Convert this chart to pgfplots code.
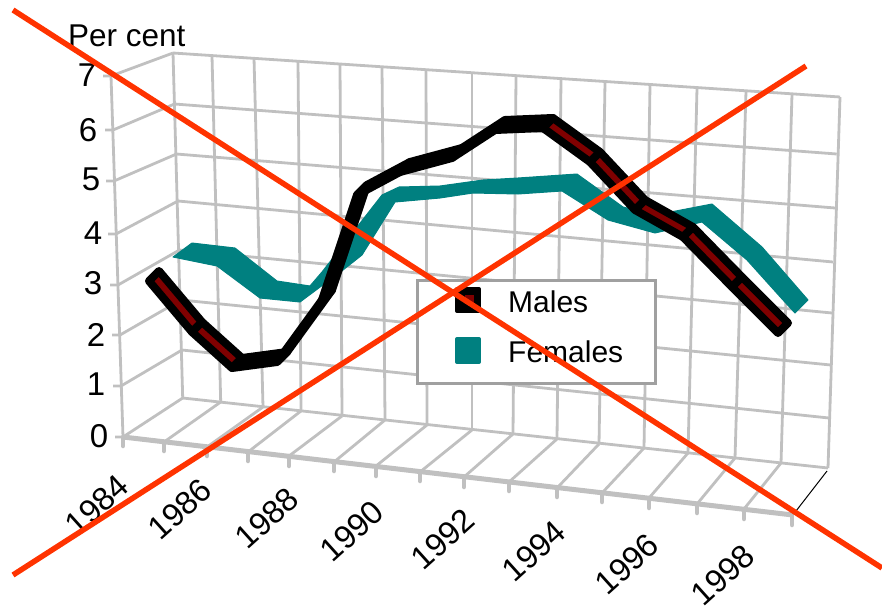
\documentclass[border=0pt]{standalone}
\usepackage{pgfplots}
\pgfplotsset{compat=1.18}
\usepackage{fontspec}
\setmainfont{Liberation Sans}
\definecolor{gridc}{HTML}{C0C0C0}
\definecolor{teal2}{HTML}{008080}
\definecolor{dred}{HTML}{800000}
\definecolor{cross}{HTML}{FF3300}
\definecolor{lbox}{HTML}{A0A0A0}
\newcommand{\grid}[1]{\addplot[gridc,line width=2.8pt,forget plot] coordinates {#1};}
\newcommand{\tck}[1]{\addplot[gridc,line width=4.5pt,line cap=round,forget plot] coordinates {#1};}
\newcommand{\msegR}[1]{\addplot[fill=dred,draw=black,line width=8pt,line join=round,forget plot] coordinates {#1} --cycle;}
\newcommand{\msegB}[1]{\addplot[fill=black,draw=black,line width=8pt,line join=round,forget plot] coordinates {#1} --cycle;}
\begin{document}
\begin{tikzpicture}
\begin{axis}[
  hide axis, scale only axis, width=882pt, height=605pt,
  xmin=0, xmax=882, ymin=0, ymax=605, y dir=reverse,
  clip=true,
]
% back wall: horizontal
\grid{(173,53)(840,97)}
\grid{(174.5,104)(836.7,154)}
\grid{(176.5,154)(835,208)}
\grid{(178,201)(833,262)}
\grid{(179.5,250)(832,313)}
\grid{(181,300)(830.7,365)}
\grid{(182,350)(829,418)}
\grid{(182.7,398)(828,468)}
% back wall: vertical
\grid{(173,53)(182.7,398)}
\grid{(212,56)(220.7,402)}
\grid{(254,58)(263,407)}
\grid{(298,61)(301,411)}
\grid{(340,64)(342,416)}
\grid{(382,67)(385,420)}
\grid{(426,70)(427,425)}
\grid{(472,73)(472,430)}
\grid{(516,76)(513,434)}
\grid{(561,79)(557,439)}
\grid{(605,82)(599,444)}
\grid{(650,85)(644,448)}
\grid{(697,88)(688,453)}
\grid{(746,91)(735,458)}
\grid{(792,94)(781,463)}
\grid{(840,97)(828,468)}
% left wall
\grid{(103,76)(111,76)(173,53)}
\grid{(105,130)(113,130)(174.5,104)}
\grid{(106,181)(114,181)(176.5,154)}
\grid{(108,234)(116,234)(178,201)}
\grid{(110,285)(118,285)(179.5,250)}
\grid{(112,335)(120,335)(181,300)}
\grid{(113,386)(121,386)(182,350)}
\grid{(115,437)(123,437)(182.7,398)}
\grid{(111,76)(123,437)}
% floor lines
\grid{(164,442)(220.7,402)}
\grid{(207,447)(263,407)}
\grid{(248,452)(301,411)}
\grid{(289,456)(342,416)}
\grid{(334,462)(385,420)}
\grid{(376,466)(427,425)}
\grid{(420,472)(472,430)}
\grid{(464,477)(513,434)}
\grid{(509,482)(557,439)}
\grid{(557,488)(599,444)}
\grid{(602,493)(644,448)}
\grid{(649,498)(688,453)}
\grid{(697,504)(735,458)}
\grid{(744,509)(781,463)}
% ticks on the front floor edge
\tck{(123,437)(123,446)}
\tck{(164,442)(164,451)}
\tck{(207,447)(207,456)}
\tck{(248,452)(248,461)}
\tck{(289,456)(289,466)}
\tck{(334,462)(334,471)}
\tck{(376,466)(376,476)}
\tck{(420,472)(420,481)}
\tck{(464,477)(464,487)}
\tck{(509,482)(509,491)}
\tck{(557,488)(557,497)}
\tck{(602,493)(602,502)}
\tck{(649,498)(649,508)}
\tck{(697,504)(697,513)}
\tck{(744,509)(744,519)}
\tck{(792,515)(792,525)}
\addplot[gridc,line width=5pt,forget plot] coordinates {(123,437)(793,515)};
\addplot[black,line width=1pt,forget plot] coordinates {(796,511)(827,471)};
% Females
\addplot[fill=teal2,draw=teal2,line width=1pt,line join=round] coordinates {
(173,257)(192,243)(235,248)(277,281)(310,286)(322,272)(382,195)(399,187)(440,186)(483,180)(518,178)(577,174)(623,207)(655,215)(712,204)(762,247)(808,300)(795,313)
(783,300)(747,260)(702,222)(655,233)(608,220)(562,191)(518,194)(473,193)(440,198)(395,202)(362,255)(343,270)(300,302)(260,298)(217,266)} --cycle;
% Males
\msegR{(149,281)(192,332)(202,322)(159,271)}
\msegR{(192,332)(232,368)(242,358)(202,322)}
\msegB{(232,368)(277,362)(287,352)(242,358)}
\msegB{(277,362)(322,300)(332,290)(287,352)}
\msegB{(322,300)(357,195)(367,185)(332,290)}
\msegB{(357,195)(400,172)(410,162)(367,185)}
\msegB{(400,172)(452,158)(462,148)(410,162)}
\msegB{(452,158)(495,130)(505,120)(462,148)}
\msegB{(495,130)(543,128)(553,118)(505,120)}
\msegR{(543,128)(590,162)(600,152)(553,118)}
\msegR{(590,162)(635,210)(645,200)(600,152)}
\msegR{(635,210)(683,237)(693,227)(645,200)}
\msegR{(683,237)(732,287)(742,277)(693,227)}
\msegR{(732,287)(778,333)(788,323)(742,277)}
% legend
\addplot[fill=white,draw=lbox,line width=3pt,forget plot] coordinates {(417,280)(655,280)(655,383)(417,383)} --cycle;
\addplot[fill=black,draw=black,line width=4pt,line join=round,forget plot] coordinates {(457,289)(479,289)(479,311)(457,311)} --cycle;
\addplot[fill=dred,draw=dred,line width=1pt,forget plot] coordinates {(465,295)(473,295)(473,303)(465,303)} --cycle;
\addplot[fill=teal2,draw=teal2,line width=4pt,line join=round,forget plot] coordinates {(457,339)(479,339)(479,362)(457,362)} --cycle;
% text
\node[anchor=base west,inner sep=0pt,font=\fontsize{30}{30}\selectfont] at (axis cs:508,312) {Males};
\node[anchor=base west,inner sep=0pt,font=\fontsize{30}{30}\selectfont] at (axis cs:508,362) {Females};
\node[anchor=base west,inner sep=0pt,font=\fontsize{31.5}{31.5}\selectfont] at (axis cs:68,46.7) {Per cent};
\node[inner sep=0pt,font=\fontsize{33}{33}\selectfont] at (axis cs:87,75) {7};
\node[inner sep=0pt,font=\fontsize{33}{33}\selectfont] at (axis cs:88,130) {6};
\node[inner sep=0pt,font=\fontsize{33}{33}\selectfont] at (axis cs:91,179) {5};
\node[inner sep=0pt,font=\fontsize{33}{33}\selectfont] at (axis cs:93,233) {4};
\node[inner sep=0pt,font=\fontsize{33}{33}\selectfont] at (axis cs:93,283) {3};
\node[inner sep=0pt,font=\fontsize{33}{33}\selectfont] at (axis cs:96,335) {2};
\node[inner sep=0pt,font=\fontsize{33}{33}\selectfont] at (axis cs:96,384) {1};
\node[inner sep=0pt,font=\fontsize{33}{33}\selectfont] at (axis cs:99,436) {0};
\node[rotate=42,inner sep=0pt,font=\fontsize{32.5}{32.5}\selectfont] at (axis cs:97,505) {1984};
\node[rotate=42,inner sep=0pt,font=\fontsize{32.5}{32.5}\selectfont] at (axis cs:180,509) {1986};
\node[rotate=42,inner sep=0pt,font=\fontsize{32.5}{32.5}\selectfont] at (axis cs:267,518) {1988};
\node[rotate=42,inner sep=0pt,font=\fontsize{32.5}{32.5}\selectfont] at (axis cs:352,531) {1990};
\node[rotate=42,inner sep=0pt,font=\fontsize{32.5}{32.5}\selectfont] at (axis cs:443,539) {1992};
\node[rotate=42,inner sep=0pt,font=\fontsize{32.5}{32.5}\selectfont] at (axis cs:534,551) {1994};
\node[rotate=42,inner sep=0pt,font=\fontsize{32.5}{32.5}\selectfont] at (axis cs:627,564) {1996};
\node[rotate=42,inner sep=0pt,font=\fontsize{32.5}{32.5}\selectfont] at (axis cs:723,575) {1998};
% crossing lines
\addplot[cross,line width=5.5pt,forget plot] coordinates {(13,10)(882,568)};
\addplot[cross,line width=5.5pt,forget plot] coordinates {(13,575)(806,66)};
\end{axis}
\pgfresetboundingbox
\useasboundingbox (0,0) rectangle (882pt,605pt);
\end{tikzpicture}
\end{document}
